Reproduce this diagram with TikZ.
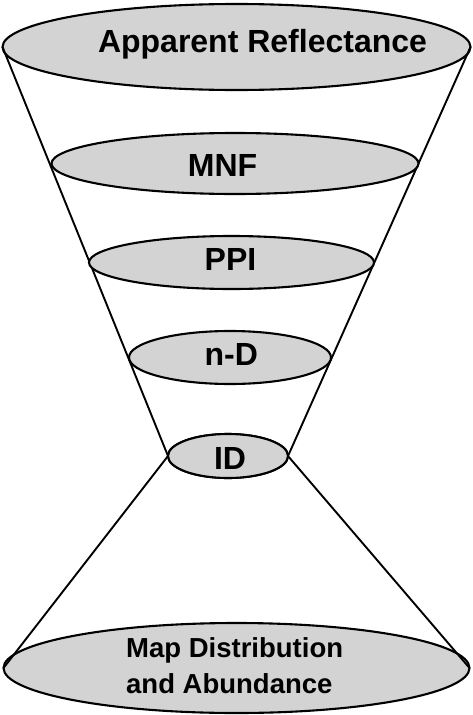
\documentclass[tikz,border=0pt]{standalone}
\usepackage{fontspec}
\setmainfont{Liberation Sans}
\usetikzlibrary{shapes.geometric}
\definecolor{discgray}{RGB}{211,211,211}

\begin{document}
\begin{tikzpicture}[x=1pt, y=-1pt,
    disc/.style={ellipse, draw=black, fill=discgray, line width=2.1pt, inner sep=0pt, outer sep=0pt},
    lbl/.style={anchor=base, inner sep=0pt, font=\fontsize{32}{38}\selectfont\bfseries}]
    \useasboundingbox (0,0) rectangle (472,715);

    % the cone
    \node[disc, minimum width=468pt, minimum height=86pt] (ar) at (236.5, 47) {};
    \node[disc, minimum width=120pt, minimum height=44pt] (id) at (228, 456) {};
    \node[disc, minimum width=466pt, minimum height=90pt] (map) at (236.5, 668) {};

    \draw[line width=1.9pt] (ar.west) -- (id.west) -- (map.west);
    \draw[line width=1.9pt] (ar.east) -- (id.east) -- (map.east);

    \node[disc, minimum width=367pt, minimum height=61pt] (mnf) at (235, 163.5) {};
    \node[disc, minimum width=285pt, minimum height=53pt] (ppi) at (231.5, 262.5) {};
    \node[disc, minimum width=202pt, minimum height=53pt] (nd) at (230, 357.5) {};
    \node[disc, minimum width=120pt, minimum height=44pt] at (id) {};

    % labels
    \node[lbl] (arl) at (262.5, 52.3) {Apparent Reflectance};
    \node[lbl] (mnfl) at (222.5, 176) {MNF};
    \node[lbl] (ppil) at (230.5, 270.7) {PPI};
    \node[lbl] (ndl) at (231.3, 365) {n-D};
    \node[lbl] (idl) at (230, 469.3) {ID};
    \node[lbl, anchor=base west, align=left, font=\fontsize{27.5}{36}\selectfont\bfseries] (mapl) at (126, 693)
        {Map Distribution\\and Abundance};
\end{tikzpicture}
\end{document}
